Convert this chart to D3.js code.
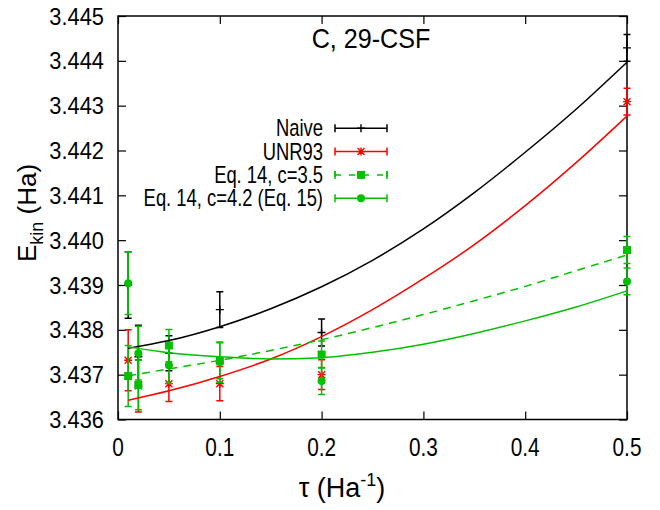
<!DOCTYPE html>
<html>
<head>
<meta charset="utf-8">
<script src="https://cdn.jsdelivr.net/npm/d3@7"></script>
<style>
  html, body { margin: 0; padding: 0; background: #fff; }
  svg { display: block; font-family: "Liberation Sans", Arial, sans-serif; }
</style>
</head>
<body>
<svg id="chart" width="660" height="510"></svg>
<script>
// ---------- data ----------
const taus = [0.01, 0.02, 0.05, 0.1, 0.2, 0.5];
const naiveVals = [3.43900, 3.43740, 3.43748, 3.43845, 3.43794, 3.44429];
const naiveErrs = [0.00074, 0.00070, 0.00039, 0.00040, 0.00030, 0.00030];
const unrVals = [3.43732, 3.43675, 3.43680, 3.43680, 3.43700, 3.44309];
const unrErrs = [0.00068, 0.00058, 0.00040, 0.00038, 0.00033, 0.00030];
const c35Vals = [3.43697, 3.43677, 3.43765, 3.43731, 3.43745, 3.43978];
const c35Errs = [0.00068, 0.00055, 0.00036, 0.00040, 0.00030, 0.00030];
const c42Vals = [3.43904, 3.43748, 3.43721, 3.43728, 3.43686, 3.43908];
const c42Errs = [0.00070, 0.00060, 0.00040, 0.00045, 0.00030, 0.00030];

// fitted curves
const fitTaus = [0.01, 0.05, 0.1, 0.15, 0.2, 0.25, 0.3, 0.35, 0.4, 0.45, 0.5];
const naiveFit = [3.43759, 3.43776, 3.43807, 3.43847, 3.43896, 3.43955, 3.44025, 3.44106, 3.44196, 3.44292, 3.44397];
const unrFit = [3.43643, 3.43664, 3.43696, 3.43735, 3.43785, 3.43845, 3.43914, 3.43990, 3.44077, 3.44173, 3.44277];
const c35Fit = [3.43697, 3.43713, 3.43732, 3.43754, 3.43778, 3.43805, 3.43834, 3.43865, 3.43897, 3.43932, 3.43967];
const c42Fit = [3.43762, 3.43749, 3.43740, 3.43735, 3.43738, 3.43750, 3.43768, 3.43792, 3.43820, 3.43851, 3.43887];

const xTicks = [0, 0.1, 0.2, 0.3, 0.4, 0.5];
const xTickLabels = ["0", "0.1", "0.2", "0.3", "0.4", "0.5"];
const yTicks = [3.436, 3.437, 3.438, 3.439, 3.440, 3.441, 3.442, 3.443, 3.444, 3.445];
const yTickLabels = ["3.436", "3.437", "3.438", "3.439", "3.440", "3.441", "3.442", "3.443", "3.444", "3.445"];

const seriesNames = ["Naive", "UNR93", "Eq. 14, c=3.5", "Eq. 14, c=4.2 (Eq. 15)"];
const seriesColors = ["#000000", "#ff0000", "#00c000", "#00c000"];
const seriesMarkers = ["plus", "star", "square", "circle"];
const seriesDashed = [false, false, true, false];
const titleText = "C, 29-CSF";

// ---------- layout ----------
const svg = d3.select("#chart");
const L = 118, R = 627, T = 16, B = 419.5;
const x = d3.scaleLinear().domain([0, 0.5]).range([L, R]);
const y = d3.scaleLinear().domain([3.436, 3.445]).range([B, T]);

const series = [
  { vals: naiveVals, errs: naiveErrs, fit: naiveFit },
  { vals: unrVals, errs: unrErrs, fit: unrFit },
  { vals: c35Vals, errs: c35Errs, fit: c35Fit },
  { vals: c42Vals, errs: c42Errs, fit: c42Fit }
].map((s, i) => Object.assign(s, {
  name: seriesNames[i], color: seriesColors[i], marker: seriesMarkers[i], dashed: seriesDashed[i]
}));

function txt(g, str, tx, ty, size, sx, anchor) {
  return g.append("text")
    .attr("transform", `translate(${tx},${ty}) scale(${sx},1)`)
    .attr("text-anchor", anchor)
    .attr("font-size", size)
    .attr("fill", "#000")
    .text(str);
}

// ---------- axes ----------
const axG = svg.append("g");
const tickLen = 8;
// bottom axis (ticks inward) and top mirrored
const xAxisB = d3.axisBottom(x).tickValues(xTicks).tickSize(-tickLen).tickFormat("");
const xAxisT = d3.axisTop(x).tickValues(xTicks).tickSize(-tickLen).tickFormat("");
const yAxisL = d3.axisLeft(y).tickValues(yTicks).tickSize(-tickLen).tickFormat("");
const yAxisR = d3.axisRight(y).tickValues(yTicks).tickSize(-tickLen).tickFormat("");
[[xAxisB, `translate(0,${B})`], [xAxisT, `translate(0,${T})`],
 [yAxisL, `translate(${L},0)`], [yAxisR, `translate(${R},0)`]].forEach(([a, tr]) => {
  const g = axG.append("g").attr("transform", tr).call(a);
  g.select(".domain").remove();
  g.selectAll("line").attr("stroke", "#000").attr("stroke-width", 1.2);
});
axG.append("rect").attr("x", L).attr("y", T).attr("width", R - L).attr("height", B - T)
  .attr("fill", "none").attr("stroke", "#000").attr("stroke-width", 1.5);

// tick labels
const lblG = svg.append("g");
xTicks.forEach((t, i) => txt(lblG, xTickLabels[i], x(t), 456, 26, 0.8, "middle"));
yTicks.forEach((t, i) => txt(lblG, yTickLabels[i], 104, y(t) + 8.5, 23, 0.95, "end"));

// axis titles
const yl = svg.append("text")
  .attr("transform", "translate(36,213) rotate(-90)")
  .attr("text-anchor", "middle")
  .attr("font-size", 26);
yl.append("tspan").text("E");
yl.append("tspan").attr("font-size", 18).attr("dy", 7).text("kin");
yl.append("tspan").attr("dy", -7).text(" (Ha)");

const xl = svg.append("text")
  .attr("transform", "translate(342,497)")
  .attr("text-anchor", "middle")
  .attr("font-size", 27);
xl.append("tspan").text("τ (Ha");
xl.append("tspan").attr("font-size", 18).attr("dy", -11).text("-1");
xl.append("tspan").attr("dy", 11).text(")");

// title
txt(svg, titleText, 371, 48, 27, 0.93, "middle");

// ---------- markers ----------
function drawMarker(g, kind, cx, cy, color) {
  if (kind === "plus") {
    g.append("path").attr("d", `M${cx - 4},${cy}H${cx + 4}M${cx},${cy - 4}V${cy + 4}`)
      .attr("stroke", color).attr("stroke-width", 1.4).attr("fill", "none");
  } else if (kind === "star") {
    g.append("path").attr("d",
      `M${cx - 4},${cy}H${cx + 4}M${cx},${cy - 4}V${cy + 4}M${cx - 3.5},${cy - 3.5}L${cx + 3.5},${cy + 3.5}M${cx - 3.5},${cy + 3.5}L${cx + 3.5},${cy - 3.5}`)
      .attr("stroke", color).attr("stroke-width", 1.4).attr("fill", "none");
  } else if (kind === "square") {
    g.append("rect").attr("x", cx - 4).attr("y", cy - 4).attr("width", 8).attr("height", 8)
      .attr("fill", color);
  } else if (kind === "circle") {
    g.append("circle").attr("cx", cx).attr("cy", cy).attr("r", 4).attr("fill", color);
  }
}

// ---------- error bar points ----------
const plotG = svg.append("g");
series.forEach(s => {
  const g = plotG.append("g");
  taus.forEach((t, i) => {
    const cx = x(t), y1 = y(s.vals[i] + s.errs[i]), y0 = y(s.vals[i] - s.errs[i]);
    g.append("path")
      .attr("d", `M${cx},${y1}V${y0}M${cx - 3.5},${y1}H${cx + 3.5}M${cx - 3.5},${y0}H${cx + 3.5}`)
      .attr("stroke", s.color).attr("stroke-width", 1.5).attr("fill", "none");
    drawMarker(g, s.marker, cx, y(s.vals[i]), s.color);
  });
});

// ---------- fitted curves ----------
const line = d3.line().x((d, i) => x(fitTaus[i])).y(d => y(d)).curve(d3.curveMonotoneX);
series.forEach(s => {
  plotG.append("path").datum(s.fit)
    .attr("d", line)
    .attr("fill", "none")
    .attr("stroke", s.color)
    .attr("stroke-width", 1.5)
    .attr("stroke-dasharray", s.dashed ? "8,6" : null);
});

// ---------- legend ----------
const legG = svg.append("g");
series.forEach((s, i) => {
  const ly = 128.3 + i * 23.3;
  txt(legG, s.name, 323, ly + 8, 23, 0.8, "end");
  legG.append("path")
    .attr("d", `M335,${ly}H387M335,${ly - 4}V${ly + 4}M387,${ly - 4}V${ly + 4}`)
    .attr("stroke", s.color).attr("stroke-width", 1.5).attr("fill", "none")
    .attr("stroke-dasharray", s.dashed ? "6,8" : null);
  if (s.dashed) {
    legG.append("path").attr("d", `M335,${ly - 4}V${ly + 4}M387,${ly - 4}V${ly + 4}`)
      .attr("stroke", s.color).attr("stroke-width", 1.5);
  }
  drawMarker(legG, s.marker, 361, ly, s.color);
});
</script>
</body>
</html>
